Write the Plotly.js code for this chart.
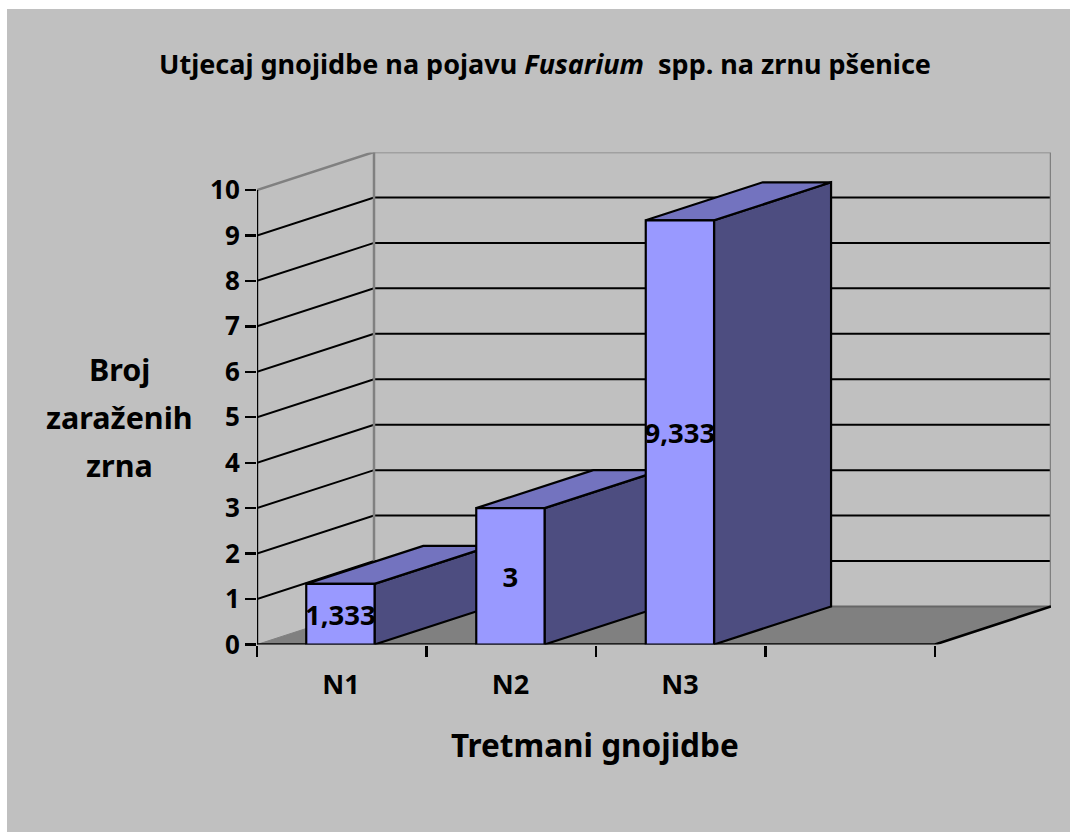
<!DOCTYPE html>
<html>
<head>
<meta charset="utf-8">
<script src="https://cdn.plot.ly/plotly-3.0.1.min.js"></script>
<style>html,body{margin:0;padding:0;background:#fff}#chart{width:1070px;height:832px}</style>
</head>
<body>
<div id="chart"></div>
<script>
var categories = ['N1', 'N2', 'N3'];
var values = [1.333, 3, 9.333];
var valueLabels = ['1,333', '3', '9,333'];
var yTicks = [0, 1, 2, 3, 4, 5, 6, 7, 8, 9, 10];
var xTicks = [0, 1, 2, 3, 4];
var titleHtml = '<b>Utjecaj gnojidbe na pojavu <i>Fusarium</i>  spp. na zrnu pšenice</b>';
var yTitleLines = ['Broj', 'zaraženih', 'zrna'];
var xTitle = 'Tretmani gnojidbe';

var W = 1070, H = 832, FONT = '"Noto Sans", Lato, sans-serif';
var pxX = 169.5, pxY = 45.45;
var depthX = 117 / pxX, depthY = 38 / pxY;      // oblique depth of the fake 3D box
var xMax = 794 / pxX, yMax = 492 / pxY;
var barW = 0.403, centres = [0.492, 1.495, 2.495];

function line(x, y, color, width) {
  return {type: 'scatter', mode: 'lines', x: x, y: y, xaxis: 'x', yaxis: 'y', cliponaxis: false,
          hoverinfo: 'skip', showlegend: false, line: {color: color, width: width, shape: 'linear'}};
}
function poly(x, y, fill) {
  var t = line(x, y, '#000', 2.2);
  t.fill = 'toself'; t.fillcolor = fill;
  return t;
}

var traces = [];
// floor
var floor = poly([0, depthX, xMax, 4, 0], [0, depthY, depthY, 0, 0], '#808080');
floor.line.color = 'rgba(0,0,0,0)';
traces.push(floor);
// back wall grid and side-wall grid
yTicks.slice(1, -1).forEach(function (v) {
  traces.push(line([0, depthX, xMax], [v, v + depthY, v + depthY], '#000', 2));
});
// wall outline
traces.push(line([0, depthX, xMax, xMax], [10, 10 + depthY, 10 + depthY, depthY], '#808080', 2.5));
traces.push(line([depthX, depthX], [depthY, 10 + depthY], '#808080', 2.5));
traces.push(line([depthX, xMax], [depthY, depthY], '#666666', 2));
traces.push(line([0, depthX], [0, depthY], '#808080', 1));
// front axis lines and floor edge
traces.push(line([0, 0], [0, 10], '#000', 2.4));
traces.push(line([0, 4, xMax], [0, 0, depthY], '#000', 2.6));
// top and side faces of every bar
values.forEach(function (v, i) {
  var l = centres[i] - barW / 2, r = centres[i] + barW / 2;
  traces.push(poly([r, r + depthX, r + depthX, r, r], [0, depthY, v + depthY, v, 0], '#4D4D80'));
  traces.push(poly([l, l + depthX, r + depthX, r, l], [v, v + depthY, v + depthY, v, v], '#7373BF'));
});
// front faces, on an overlay so that each hides the neighbour's side face
traces.push({
  type: 'bar', x: centres, y: values, width: barW, xaxis: 'x2', yaxis: 'y2', cliponaxis: false,
  marker: {color: '#9999FF', line: {color: '#000', width: 2.2}},
  text: valueLabels, textposition: 'inside', insidetextanchor: 'middle', textangle: 0,
  constraintext: 'none', insidetextfont: {family: FONT, size: 27.5, color: '#000', weight: 700},
  hoverinfo: 'skip', showlegend: false
});

var dom = {x: [257 / W, 1051 / W], y: [(H - 644.5) / H, (H - 152.5) / H]};
var annotations = yTitleLines.map(function (t, i) {
  return {text: '<b>' + t + '</b>', xref: 'paper', yref: 'paper', x: 119 / W, y: 1 - (369 + i * 48) / H,
          xanchor: 'center', yanchor: 'middle', showarrow: false,
          font: {family: FONT, size: 30.5, color: '#000'}};
});
annotations.push({text: '<b>' + xTitle + '</b>', xref: 'paper', yref: 'paper', x: 595 / W, y: 1 - 744 / H,
                  xanchor: 'center', yanchor: 'middle', showarrow: false,
                  font: {family: FONT, size: 31.5, color: '#000'}});

var layout = {
  width: W, height: H, margin: {l: 0, r: 0, t: 0, b: 0, pad: 0},
  paper_bgcolor: '#ffffff', plot_bgcolor: 'rgba(0,0,0,0)', showlegend: false, hovermode: false,
  title: {text: titleHtml, x: 545 / W, y: 1 - 65 / H, xref: 'paper', yref: 'paper',
          xanchor: 'center', yanchor: 'middle', font: {family: FONT, size: 27, color: '#000'}},
  shapes: [{type: 'rect', xref: 'paper', yref: 'paper', x0: 7 / W, x1: 1, y0: 0, y1: 1 - 9 / H,
            fillcolor: '#C0C0C0', line: {width: 0}, layer: 'below'}],
  annotations: annotations,
  xaxis: {domain: dom.x, range: [0, xMax], tickmode: 'array', tickvals: xTicks, ticktext: xTicks.map(function () { return ''; }),
          ticks: 'outside', ticklen: 11, tickwidth: 2.4, tickcolor: '#000', showgrid: false, zeroline: false, showline: false, anchor: 'y'},
  yaxis: {domain: dom.y, range: [0, yMax], tickmode: 'array', tickvals: yTicks, ticks: 'outside', ticklen: 11, tickwidth: 2.4,
          tickcolor: '#000', showgrid: false, zeroline: false, showline: false, anchor: 'x',
          tickfont: {family: FONT, size: 26, color: '#000', weight: 700}},
  xaxis2: {domain: dom.x, range: [0, xMax], overlaying: 'x', anchor: 'y2', side: 'bottom', tickmode: 'array',
           tickvals: [0.496, 1.496, 2.496], ticktext: categories, ticks: 'outside', ticklen: 16, tickcolor: 'rgba(0,0,0,0)',
           showgrid: false, zeroline: false, showline: false,
           tickfont: {family: FONT, size: 27, color: '#000', weight: 700}},
  yaxis2: {domain: dom.y, range: [0, yMax], overlaying: 'y', anchor: 'x2', visible: false, showgrid: false, zeroline: false}
};
Plotly.newPlot('chart', traces, layout, {displayModeBar: false, staticPlot: true});
</script>
</body>
</html>
